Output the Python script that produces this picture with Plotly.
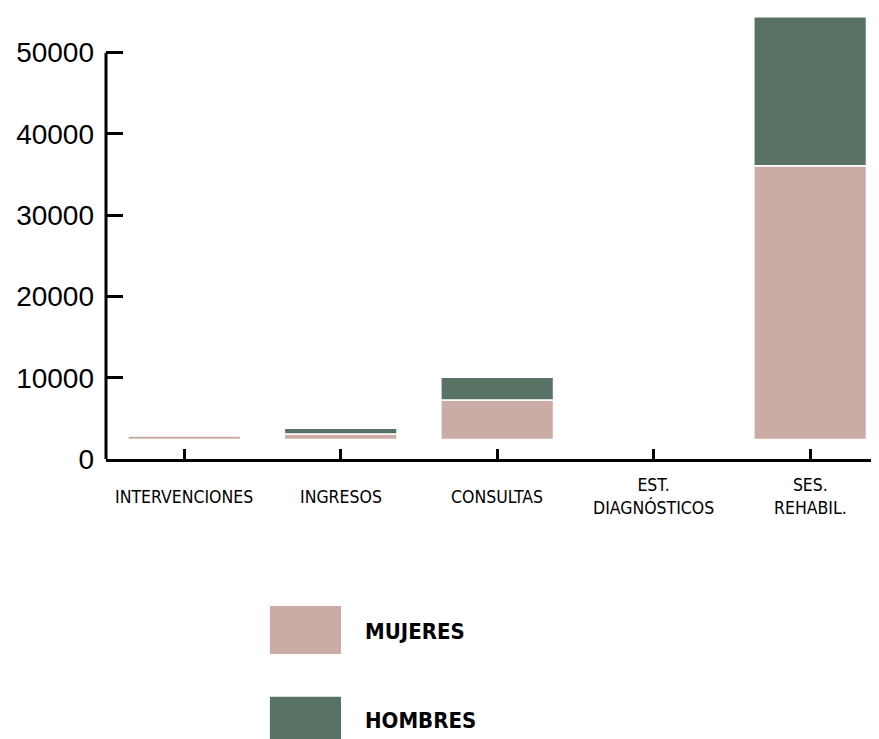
import plotly.graph_objects as go

categories = ["INTERVENCIONES", "INGRESOS", "CONSULTAS", "EST.<br>DIAGNÓSTICOS", "SES.<br>REHABIL."]
mujeres = [470, 680, 4860, 0, 33680]
hombres = [0, 700, 2790, 0, 18330]
base_offset = 2400
yticks = [0, 10000, 20000, 30000, 40000, 50000]
legend_labels = ["MUJERES", "HOMBRES"]

col_m = "#CBABA6"
col_h = "#587365"

x_idx = list(range(len(categories)))
base_m = [base_offset] * len(categories)
base_h = [base_offset + m for m in mujeres]

fig = go.Figure()
fig.add_trace(go.Bar(x=x_idx, y=mujeres, base=base_m, name=legend_labels[0],
                     marker=dict(color=col_m, line=dict(color="white", width=1.5))))
fig.add_trace(go.Bar(x=x_idx, y=hombres, base=base_h, name=legend_labels[1],
                     marker=dict(color=col_h, line=dict(color="white", width=1.5))))

narrow = "DejaVu Sans Condensed, Liberation Sans Narrow, sans-serif"

# category labels centred vertically below the axis
for i, c in enumerate(categories):
    fig.add_annotation(x=i, y=-0.085, xref="x", yref="paper", text=c, showarrow=False,
                       yanchor="middle", xanchor="center", align="center",
                       font=dict(family=narrow, size=17.5, color="black"))

# y axis line only up to the top tick
fig.add_shape(type="line", xref="paper", yref="y", x0=0, x1=0, y0=0, y1=max(yticks),
              line=dict(color="black", width=3))

# manual legend
leg_colors = [col_m, col_h]
leg_y = [(-0.329, -0.436), (-0.532, -0.640)]
leg_ty = [-0.385, -0.584]
for lab, c, (y0, y1), ty in zip(legend_labels, leg_colors, leg_y, leg_ty):
    fig.add_shape(type="rect", xref="paper", yref="paper", x0=0.212, x1=0.304, y0=y1, y1=y0,
                  fillcolor=c, line=dict(width=0))
    fig.add_annotation(x=0.3325, y=ty, xref="paper", yref="paper", text="<b>" + lab + "</b>",
                       showarrow=False, xanchor="left", yanchor="middle",
                       font=dict(family=narrow, size=22, color="black"))

fig.update_layout(
    width=871, height=731,
    margin=dict(l=98, r=0, t=4, b=280),
    plot_bgcolor="white", paper_bgcolor="white",
    barmode="overlay", bargap=0.28,
    showlegend=False,
    font=dict(family="Liberation Sans, Arial, sans-serif", color="black"),
)
fig.update_xaxes(range=[-0.5, 4.44], tickmode="array", tickvals=x_idx, showticklabels=False,
                 tickson="boundaries", ticks="inside", ticklen=10, tickwidth=3, tickcolor="black",
                 showline=True, linewidth=3, linecolor="black", showgrid=False, zeroline=False)
fig.update_yaxes(range=[0, 55000], tickmode="array", tickvals=yticks,
                 ticktext=[str(v) for v in yticks],
                 ticks="inside", ticklen=17, tickwidth=3, tickcolor="black",
                 ticklabelstandoff=11,
                 tickfont=dict(family="Liberation Sans, Arial, sans-serif", size=28, color="black"),
                 showline=False, showgrid=False, zeroline=False)

fig.write_html("out.html")
